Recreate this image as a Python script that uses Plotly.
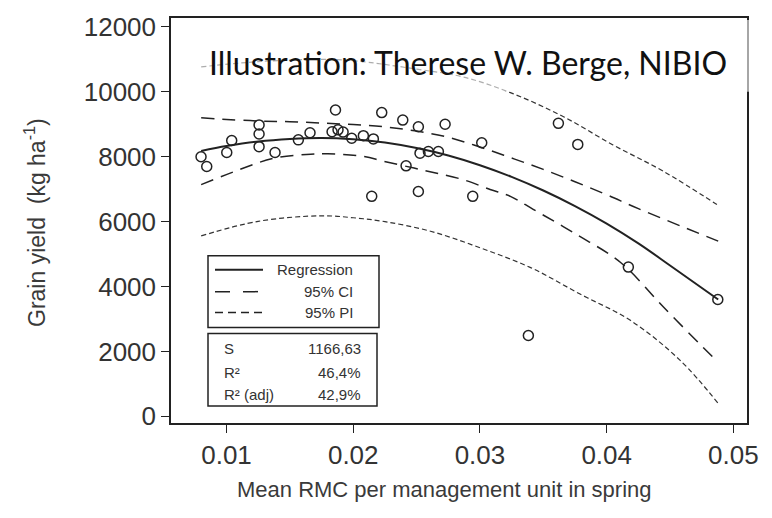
import plotly.graph_objects as go

# ---------------- data ----------------
x_obs = [0.00799, 0.00844, 0.01002, 0.01041, 0.01257, 0.01257, 0.01257, 0.01383,
         0.01567, 0.01659, 0.01860, 0.01833, 0.01880, 0.01920, 0.01988, 0.02080,
         0.02159, 0.02225, 0.02391, 0.02514, 0.02725, 0.02417, 0.02527, 0.02593,
         0.02672, 0.03014, 0.02146, 0.02514, 0.02943, 0.03619, 0.03772, 0.04171,
         0.04877, 0.03382]
y_obs = [8000, 7700, 8130, 8500, 8980, 8700, 8310, 8130,
         8520, 8740, 9440, 8770, 8830, 8760, 8570, 8650,
         8550, 9360, 9130, 8925, 9000, 7720, 8110, 8160,
         8160, 8430, 6780, 6930, 6780, 9030, 8380, 4600,
         3600, 2490]

x_fit = [0.0080, 0.0100, 0.0125, 0.0150, 0.0175, 0.0200, 0.0225, 0.0250, 0.0275,
         0.0300, 0.0325, 0.0350, 0.0375, 0.0400, 0.0425, 0.0450, 0.0488]
y_fit = [8180, 8330, 8470, 8550, 8580, 8540, 8440, 8270, 8040,
         7740, 7380, 6960, 6480, 5940, 5330, 4650, 3600]

x_ci_up = [0.008, 0.0125, 0.015, 0.0175, 0.02, 0.0225, 0.025, 0.0275, 0.03,
           0.0325, 0.035, 0.0375, 0.04, 0.0425, 0.0488]
y_ci_up = [9200, 9100, 9080, 9040, 8990, 8920, 8790, 8600, 8300,
           7960, 7610, 7230, 6830, 6400, 5400]

x_ci_lo = [0.008, 0.011, 0.0137, 0.0163, 0.018, 0.0208, 0.0224, 0.0248, 0.0266,
           0.0287, 0.0308, 0.0324, 0.0342, 0.0376, 0.0411, 0.0445, 0.0476, 0.0488]
y_ci_lo = [7140, 7600, 7950, 8070, 8090, 8010, 7860, 7650, 7490,
           7290, 6990, 6780, 6380, 5610, 4740, 3360, 2130, 1670]

x_pi_up = [0.008, 0.0125, 0.0175, 0.02, 0.025, 0.0287, 0.0326, 0.0366, 0.0405, 0.0445, 0.0487]
y_pi_up = [10770, 10930, 11000, 10960, 10700, 10456, 9945, 9231, 8364, 7546, 6526]

x_pi_lo = [0.008, 0.0125, 0.0175, 0.02, 0.0225, 0.0261, 0.03, 0.034, 0.0379, 0.0419, 0.0458, 0.0488]
y_pi_lo = [5560, 6010, 6180, 6120, 6000, 5705, 5196, 4583, 3768, 2950, 1725, 400]

x_ticks = [0.01, 0.02, 0.03, 0.04, 0.05]
x_tick_labels = ["0.01", "0.02", "0.03", "0.04", "0.05"]
y_ticks = [0, 2000, 4000, 6000, 8000, 10000, 12000]
y_tick_labels = ["0", "2000", "4000", "6000", "8000", "10000", "12000"]

legend_labels = ["Regression", "95% CI", "95% PI"]
stat_names = ["S", "R²", "R² (adj)"]
stat_values = ["1166,63", "46,4%", "42,9%"]
credit = "Illustration: Therese W. Berge, NIBIO"

# ---------------- layout geometry ----------------
W, H = 772, 518
L, R, T, B = 171, 747, 16, 423


def px(x):
    return (x - L) / (R - L)


def py(y):
    return (B - y) / (B - T)


INK = "#222222"
fig = go.Figure()

common = dict(mode="lines", line_shape="spline", showlegend=False, hoverinfo="skip")
fig.add_trace(go.Scatter(x=x_pi_up, y=y_pi_up, line=dict(color="#333", width=1.2, dash="5px,3px"), **common))
fig.add_trace(go.Scatter(x=x_pi_lo, y=y_pi_lo, line=dict(color="#333", width=1.2, dash="5px,3px"), **common))
fig.add_trace(go.Scatter(x=x_ci_up, y=y_ci_up, line=dict(color=INK, width=1.5, dash="13px,8px"), **common))
fig.add_trace(go.Scatter(x=x_ci_lo, y=y_ci_lo, line=dict(color=INK, width=1.5, dash="13px,8px"), **common))
fig.add_trace(go.Scatter(x=x_fit, y=y_fit, line=dict(color=INK, width=2), **common))
fig.add_trace(go.Scatter(x=x_obs, y=y_obs, mode="markers", showlegend=False,
                         marker=dict(symbol="circle-open", size=10, color=INK, line=dict(width=1.5, color=INK))))

shapes = []
annotations = []

# semi-transparent white box behind the credit text
shapes.append(dict(type="rect", xref="paper", yref="paper", layer="above",
                   x0=px(192), x1=px(750), y0=py(90), y1=py(18),
                   fillcolor="rgba(255,255,255,0.6)", line=dict(width=0)))
annotations.append(dict(xref="paper", yref="paper", x=px(468), y=py(61), text=credit,
                        showarrow=False, xanchor="center", yanchor="middle",
                        font=dict(family="Lato, Open Sans, sans-serif", size=32, color="#111")))

# legend box
shapes.append(dict(type="rect", xref="paper", yref="paper", layer="above",
                   x0=px(208), x1=px(379), y0=py(327), y1=py(255),
                   fillcolor="white", line=dict(color=INK, width=1.5)))
shapes.append(dict(type="rect", xref="paper", yref="paper", layer="above",
                   x0=px(208), x1=px(377), y0=py(406), y1=py(333),
                   fillcolor="white", line=dict(color=INK, width=1.5)))

leg_y = [269, 291, 312]
leg_dash = ["solid", "15px,13px", "8px,5px"]
leg_w = [2, 1.5, 1.5]
for yy, d, w in zip(leg_y, leg_dash, leg_w):
    shapes.append(dict(type="line", xref="paper", yref="paper", layer="above",
                       x0=px(215), x1=px(263), y0=py(yy), y1=py(yy),
                       line=dict(color=INK, width=w, dash=d)))
small_font = dict(family="Liberation Sans, Arial", size=15, color="#333")
annotations.append(dict(xref="paper", yref="paper", x=px(315), y=py(leg_y[0]), text=legend_labels[0],
                        showarrow=False, xanchor="center", yanchor="middle", font=small_font))
for lab, yy in zip(legend_labels[1:], leg_y[1:]):
    annotations.append(dict(xref="paper", yref="paper", x=px(355), y=py(yy), text=lab,
                            showarrow=False, xanchor="right", yanchor="middle", font=small_font))

stat_y = [348, 372, 394]
for nm, val, yy in zip(stat_names, stat_values, stat_y):
    annotations.append(dict(xref="paper", yref="paper", x=px(222), y=py(yy), text=nm,
                            showarrow=False, xanchor="left", yanchor="middle", font=small_font))
    annotations.append(dict(xref="paper", yref="paper", x=px(363), y=py(yy), text=val,
                            showarrow=False, xanchor="right", yanchor="middle", font=small_font))

# axis titles
annotations.append(dict(xref="paper", yref="paper", x=px(444), y=py(490),
                        text="Mean RMC per management unit in spring", showarrow=False,
                        xanchor="center", yanchor="middle",
                        font=dict(family="Liberation Sans, Arial", size=22, color="#3a3a3a")))
annotations.append(dict(xref="paper", yref="paper", x=px(35), y=py(222),
                        text="Grain yield  (kg ha<sup>-1</sup>)", showarrow=False, textangle=-90,
                        xanchor="center", yanchor="middle",
                        font=dict(family="Liberation Sans, Arial", size=23, color="#3a3a3a")))

x_range = [0.01 - (226.5 - L) / 12670, 0.05 + (R - 733.4) / 12670]
ypx = 391.7 / 12000
y_range = [-(B - 416.3) / ypx, 12000 + (25 - T) / ypx]

axis_common = dict(showline=True, mirror=True, linecolor=INK, linewidth=1.5, ticks="outside",
                   ticklen=8, tickwidth=1.2, tickcolor=INK, showgrid=False, zeroline=False,
                   tickfont=dict(family="Liberation Sans, Arial", size=26, color="#333"))

fig.update_layout(
    width=W, height=H,
    margin=dict(l=L, r=W - R, t=T, b=H - B),
    paper_bgcolor="white", plot_bgcolor="white",
    xaxis=dict(range=x_range, tickvals=x_ticks, ticktext=x_tick_labels, **axis_common),
    yaxis=dict(range=y_range, tickvals=y_ticks, ticktext=y_tick_labels, **axis_common),
    shapes=shapes, annotations=annotations, showlegend=False,
)

fig.write_html("out.html")
